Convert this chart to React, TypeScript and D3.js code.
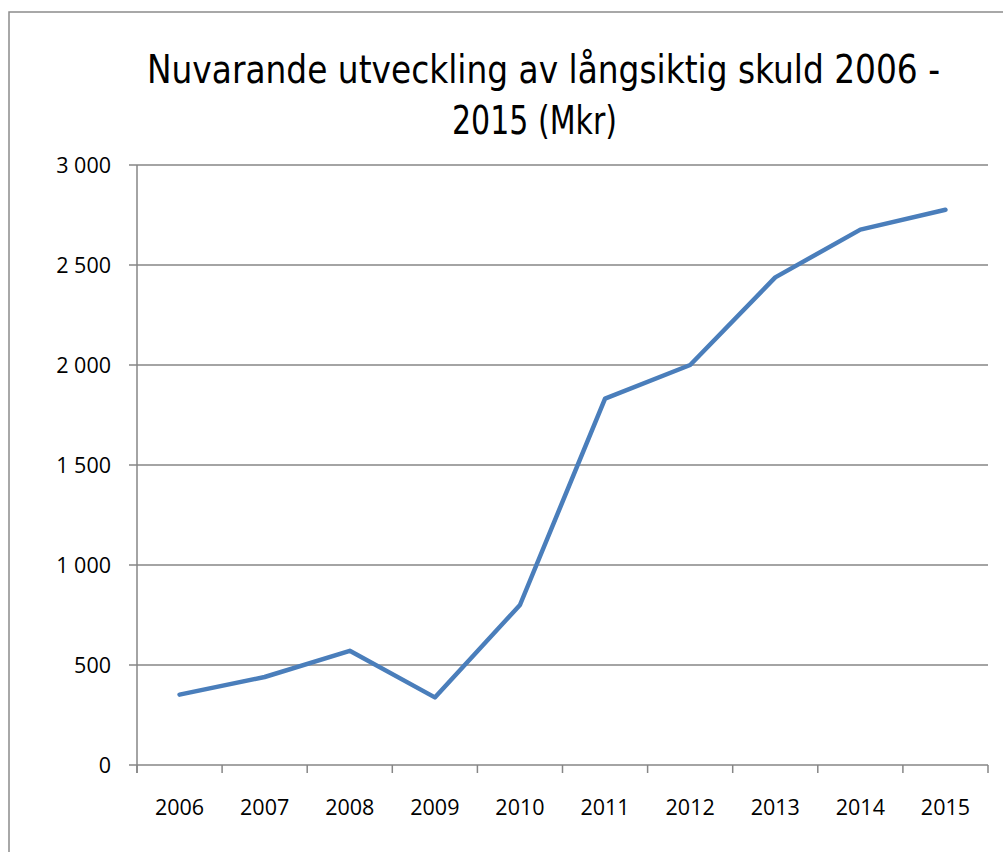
import React from "react";
import * as d3 from "d3";

const categories = ["2006", "2007", "2008", "2009", "2010", "2011", "2012", "2013", "2014", "2015"];
const values = [352, 440, 571, 338, 800, 1832, 2000, 2438, 2677, 2776];
const yTicks = [0, 500, 1000, 1500, 2000, 2500, 3000];
const titleLines = ["Nuvarande utveckling av långsiktig skuld 2006 -", "2015 (Mkr)"];

const W = 1003;
const H = 852;
const plot = { left: 137, right: 988, top: 165, bottom: 765 };

const fmt = (v: number) => {
  const s = String(v);
  return s.length > 3 ? s.slice(0, s.length - 3) + " " + s.slice(-3) : s;
};

export default function App() {
  const x = d3.scaleBand<string>().domain(categories).range([plot.left, plot.right]).padding(0);
  const y = d3.scaleLinear().domain([0, 3000]).range([plot.bottom, plot.top]);
  const line = d3
    .line<number>()
    .x((_, i) => (x(categories[i]) as number) + x.bandwidth() / 2)
    .y((d) => y(d));
  const grid = "#868686";
  const boundaries = [...categories.map((c) => x(c) as number), plot.right];
  const labelFont = "'Open Sans', sans-serif";
  return (
    <svg width={W} height={H} style={{ position: "absolute", left: 0, top: 0, background: "#fff" }}>
      <rect x={9} y={12} width={1200} height={1000} fill="#fff" stroke="#8c8c8c" strokeWidth={1.5} />
      <g fontFamily="'DejaVu Sans Condensed', sans-serif" fontSize={39} fill="#000" textAnchor="middle">
        <text x={543.5} y={83} textLength={793} lengthAdjust="spacingAndGlyphs">{titleLines[0]}</text>
        <text x={534.5} y={134} textLength={165} lengthAdjust="spacingAndGlyphs">{titleLines[1]}</text>
      </g>
      {yTicks.map((t) => (
        <g key={t}>
          <line x1={plot.left - 8} x2={t === 0 ? plot.left : plot.right} y1={y(t)} y2={y(t)} stroke={grid} strokeWidth={1.5} />
          <text x={111} y={y(t)} dy="0.35em" textAnchor="end" fontFamily={labelFont} fontSize={21.5} fill="#000">
            {fmt(t)}
          </text>
        </g>
      ))}
      <line x1={plot.left} x2={plot.right} y1={plot.bottom} y2={plot.bottom} stroke={grid} strokeWidth={1.5} />
      <line x1={plot.left} x2={plot.left} y1={plot.top} y2={plot.bottom + 8} stroke={grid} strokeWidth={1.5} />
      {boundaries.map((bx, i) => (
        <line key={i} x1={bx} x2={bx} y1={plot.bottom} y2={plot.bottom + 8} stroke={grid} strokeWidth={1.5} />
      ))}
      {categories.map((c) => (
        <text
          key={c}
          x={(x(c) as number) + x.bandwidth() / 2}
          y={815}
          textAnchor="middle"
          fontFamily={labelFont}
          fontSize={21.5}
          fill="#000"
        >
          {c}
        </text>
      ))}
      <path d={line(values) || ""} fill="none" stroke="#4a7ebb" strokeWidth={4.5} strokeLinejoin="round" strokeLinecap="round" />
    </svg>
  );
}
